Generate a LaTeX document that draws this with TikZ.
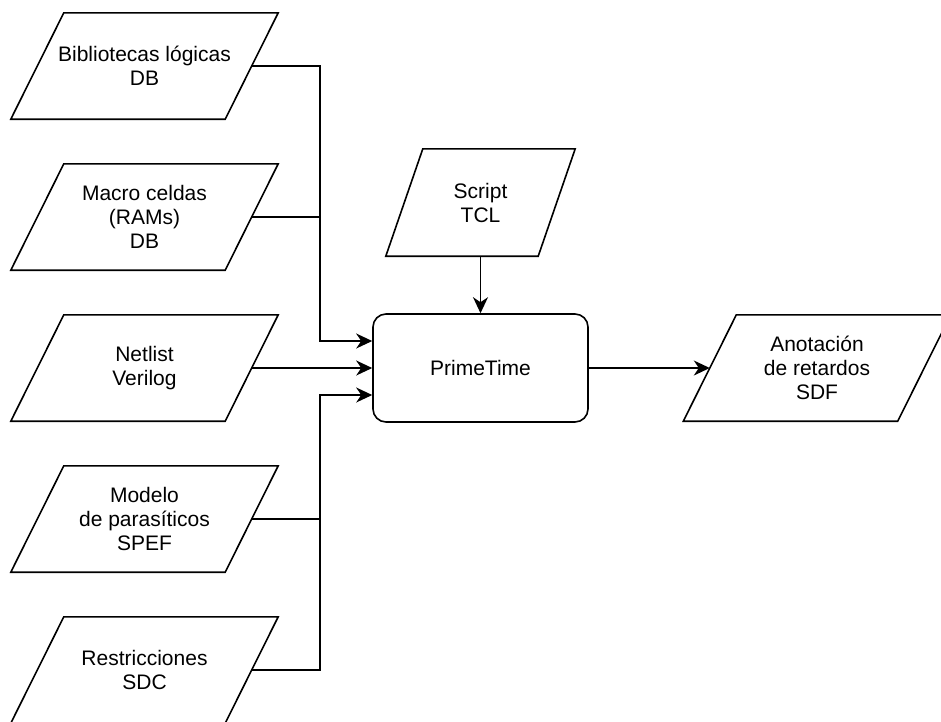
\documentclass[tikz,border=0pt]{standalone}
\usepackage{fontspec}
\setmainfont{Liberation Sans}
\usetikzlibrary{shapes.geometric, arrows.meta, positioning}
\tikzstyle{arrow} = [line width=1.6pt, -{Stealth[length=16pt, width=15pt, inset=5pt]}]
\tikzstyle{line} = [line width=1.6pt]
\tikzset{
    io/.style={
        rectangle, minimum width=214pt, minimum height=106pt, inner sep=0pt,
        align=center, font=\fontsize{21}{24}\selectfont,
        append after command={\pgfextra{
            \draw[line] ([xshift=#1]\tikzlastnode.north west) -- ([xshift=#1]\tikzlastnode.north east)
                -- ([xshift=-#1]\tikzlastnode.south east) -- ([xshift=-#1]\tikzlastnode.south west) -- cycle;
        }}
    },
    io/.default=26.5pt
}
\tikzstyle{io_S} = [io=18.5pt, minimum width=152pt, minimum height=107pt]
\tikzstyle{startstop} = [
    rectangle, rounded corners=13pt, minimum width=215pt, minimum height=108pt,
    draw=black, line width=1.6pt, align=center, font=\fontsize{21}{24}\selectfont
]

\begin{document}
\begin{tikzpicture}[node distance=151pt]
\useasboundingbox (0,0) rectangle (941pt,-721pt);
% Entradas
\node (lib) [io] at (144.5pt,-66pt) {Bibliotecas lógicas\\DB};
\node (ram) [io, below of=lib] {Macro celdas\\(RAMs)\\DB};
\node (net) [io, below of=ram] {Netlist\\Verilog};
\node (spef) [io, below of=net] {Modelo\\de parasíticos\\SPEF};
\node (sdc) [io, below of=spef] {Restricciones\\SDC};

% Herramienta y salida
\node (prime) [startstop, right of=net, xshift=185pt] {PrimeTime};
\node (tcl) [io_S, above of=prime, yshift=14.5pt] {Script\\TCL};
\node (sdf) [io, right of=prime, xshift=185.5pt] {Anotación\\de retardos\\SDF};

\coordinate (in_1) at ([yshift=27pt]prime.west);
\coordinate (in_3) at ([yshift=-27pt]prime.west);
\coordinate (bus_1) at ([xshift=-52pt]in_1);
\coordinate (bus_3) at ([xshift=-52pt]in_3);

% Connections
\draw [arrow] (lib.east) -| (bus_1) -- (in_1);
\draw [line] (ram.east) -| (bus_1);
\draw [arrow] (net) -- (prime);
\draw [arrow] (sdc.east) -| (bus_3) -- (in_3);
\draw [line] (spef.east) -| (bus_3);
\draw [arrow] (tcl) -- (prime);
\draw [arrow] (prime) -- (sdf);

\end{tikzpicture}
\end{document}
